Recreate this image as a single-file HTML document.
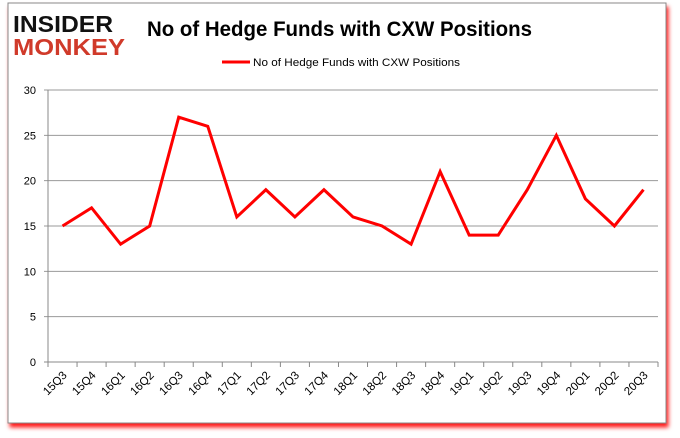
<!DOCTYPE html>
<html><head><meta charset="utf-8"><style>
body{margin:0;background:#fff;width:680px;height:433px;overflow:hidden;font-family:"Liberation Sans",sans-serif}
</style></head><body>
<svg width="680" height="433" xmlns="http://www.w3.org/2000/svg">
<defs><filter id="sh" x="-5%" y="-5%" width="110%" height="115%"><feDropShadow dx="2" dy="4" stdDeviation="2" flood-color="#f00" flood-opacity="0.9"/></filter></defs>
<rect x="8" y="3" width="658" height="420" fill="#fff" stroke="#888" filter="url(#sh)"/>
<g font-family="'Liberation Sans',sans-serif" font-weight="bold">
<text x="13" y="32" font-size="23" fill="#111" textLength="100" lengthAdjust="spacingAndGlyphs">INSIDER</text>
<text x="13" y="55" font-size="23" fill="#d03a2a" textLength="112" lengthAdjust="spacingAndGlyphs">MONKEY</text>
</g>
<text x="147" y="36" font-size="21" font-weight="bold" fill="#000" textLength="385" lengthAdjust="spacingAndGlyphs">No of Hedge Funds with CXW Positions</text>
<line x1="222" y1="62" x2="250" y2="62" stroke="#f00" stroke-width="3"/>
<text x="253" y="66" font-size="11" fill="#000" textLength="207" lengthAdjust="spacingAndGlyphs">No of Hedge Funds with CXW Positions</text>
<g id="grid"></g><g id="axes"></g><g id="series"></g>
</svg>
<script>
const categories=["15Q3","15Q4","16Q1","16Q2","16Q3","16Q4","17Q1","17Q2","17Q3","17Q4","18Q1","18Q2","18Q3","18Q4","19Q1","19Q2","19Q3","19Q4","20Q1","20Q2","20Q3"];
const values=[15,17,13,15,27,26,16,19,16,19,16,15,13,21,14,14,19,25,18,15,19];
const yTicks=[0,5,10,15,20,25,30];
const NS="http://www.w3.org/2000/svg";
const L=48,R=658,T=90,B=362;
const step=(R-L)/categories.length;
const x=i=>L+step*(i+0.5);
const y=v=>B-(v/30)*(B-T);
function mk(tag,attrs,parent,txt){const e=document.createElementNS(NS,tag);for(const k in attrs)e.setAttribute(k,attrs[k]);if(txt!==undefined)e.textContent=txt;document.getElementById(parent).appendChild(e);return e;}
yTicks.forEach(t=>{
 const g=mk('line',{x1:L-4,x2:R,y1:y(t),y2:y(t),stroke:t===0?'#888':'#999','stroke-width':1},'grid');
 
 
 const lb=mk('text',{x:L-12,y:y(t)+4,'text-anchor':'end','font-size':11,fill:'#000'},'axes',t);
 
 
});
const ya=mk('line',{x1:L,x2:L,y1:T,y2:B,stroke:'#888'},'axes');


for(let i=0;i<=categories.length;i++){
 const tk=mk('line',{x1:L+step*i,x2:L+step*i,y1:B,y2:B+5,stroke:'#888'},'axes');
 
 
}
categories.forEach((c,i)=>{
 const px=x(i)+5,py=B+14;
 const t=mk('text',{x:px,y:py,'text-anchor':'end','font-size':11.5,fill:'#000',transform:`rotate(-45 ${px} ${py})`},'axes',c);
 
 
});
const pts=values.map((v,i)=>x(i)+','+y(v)).join(' ');
const pl=mk('polyline',{points:pts,fill:'none',stroke:'#f00','stroke-width':3,'stroke-linejoin':'miter'},'series');


</script>
</body></html>
